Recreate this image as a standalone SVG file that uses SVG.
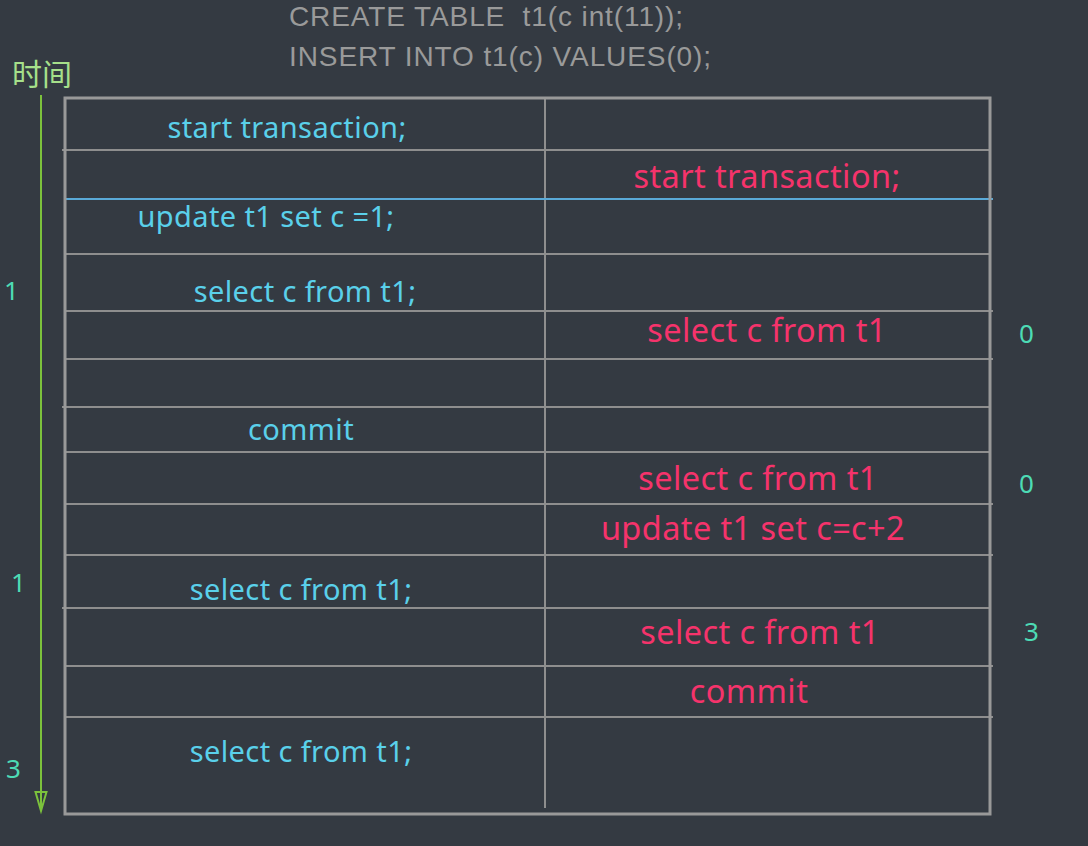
<svg xmlns="http://www.w3.org/2000/svg" width="1088" height="846" viewBox="0 0 1088 846">
<style>
.bg{fill:#343a42}
.grid{stroke:#8e8e8e;stroke-width:2;fill:none}
.outer{stroke:#999;stroke-width:3;fill:none}
.t{font-family:"Noto Sans","Open Sans",sans-serif;font-size:29px;letter-spacing:0.4px;text-anchor:middle}
.b{fill:#5ad0ea}
.r{fill:#f5336b;font-size:32.5px}
.n{font-family:"Noto Sans",sans-serif;font-size:26px;fill:#4ddbb5}
.sql{font-family:"Liberation Sans",Arial,sans-serif;font-size:28px;letter-spacing:0.9px;fill:#9a9a9a;white-space:pre}
.arrow{stroke:#7cc23c;stroke-width:2;fill:none}
</style>
<rect class="bg" x="0" y="0" width="1088" height="846"/>
<g id="header">
<text class="sql" x="289" y="26" xml:space="preserve">CREATE TABLE  t1(c int(11));</text>
<text class="sql" x="289" y="66">INSERT INTO t1(c) VALUES(0);</text>
<text x="12" y="85" font-family="'Noto Sans CJK SC',sans-serif" font-size="30" fill="#a6e08a">时间</text>
</g>
<g id="connectors">
<line class="arrow" x1="41" y1="95" x2="41" y2="811"/>
<path class="arrow" d="M35.5,792 L46.5,792 L41,811 Z"/>
</g>
<g id="table">
<line class="grid" x1="545" y1="98" x2="545" y2="808"/>
<line class="grid" x1="62" y1="150" x2="990" y2="150"/>
<line x1="65" y1="199" x2="993" y2="199" stroke="#5aaad8" stroke-width="2"/>
<line class="grid" x1="65" y1="254" x2="990" y2="254"/>
<line class="grid" x1="65" y1="311" x2="993" y2="311"/>
<line class="grid" x1="65" y1="359" x2="993" y2="359"/>
<line class="grid" x1="62" y1="407" x2="990" y2="407"/>
<line class="grid" x1="65" y1="452" x2="990" y2="452"/>
<line class="grid" x1="65" y1="504" x2="993" y2="504"/>
<line class="grid" x1="65" y1="555" x2="993" y2="555"/>
<line class="grid" x1="62" y1="608" x2="990" y2="608"/>
<line class="grid" x1="65" y1="666" x2="993" y2="666"/>
<line class="grid" x1="65" y1="717" x2="993" y2="717"/>
<rect class="outer" x="65" y="98" width="925" height="716"/>
</g>
<g id="left">
<text class="t b" x="287" y="138">start transaction;</text>
<text class="t b" x="266" y="227">update t1 set c =1;</text>
<text class="t b" x="305" y="302">select c from t1;</text>
<text class="t b" x="301" y="440">commit</text>
<text class="t b" x="301" y="600">select c from t1;</text>
<text class="t b" x="301" y="762">select c from t1;</text>
</g>
<g id="right">
<text class="t r" x="767" y="188">start transaction;</text>
<text class="t r" x="767" y="342">select c from t1</text>
<text class="t r" x="758" y="490">select c from t1</text>
<text class="t r" x="753" y="540">update t1 set c=c+2</text>
<text class="t r" x="760" y="644">select c from t1</text>
<text class="t r" x="749" y="703">commit</text>
</g>
<g id="values">
<text class="n" x="4" y="300">1</text>
<text class="n" x="1019" y="343">0</text>
<text class="n" x="1019" y="493">0</text>
<text class="n" x="11" y="592">1</text>
<text class="n" x="1024" y="641">3</text>
<text class="n" x="6" y="778">3</text>
</g>
</svg>
